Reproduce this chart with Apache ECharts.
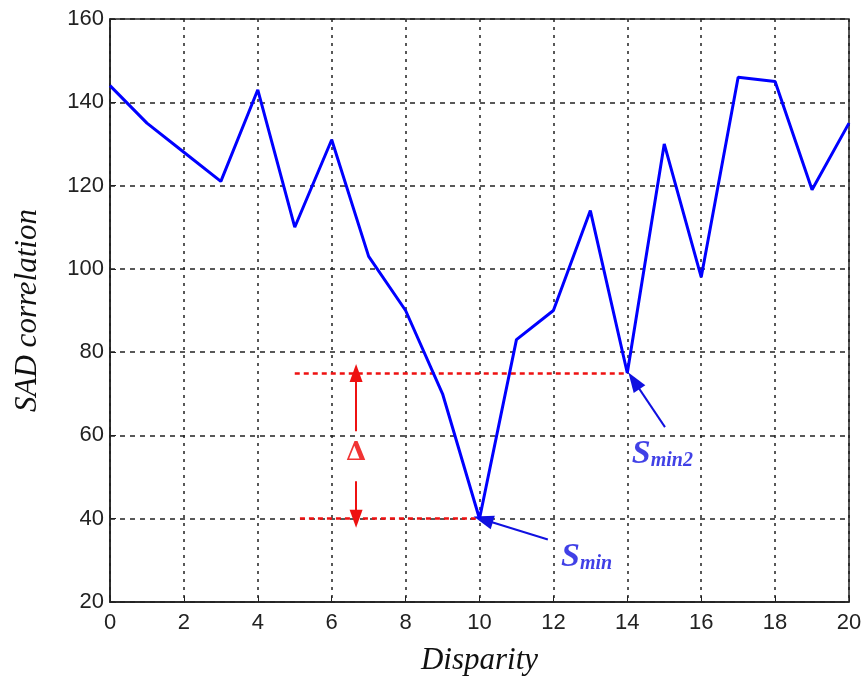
<!DOCTYPE html>
<html><head><meta charset="utf-8">
<script src="https://cdn.jsdelivr.net/npm/echarts@6/dist/echarts.min.js"></script>
<style>html,body{margin:0;padding:0;background:#fff}#c{width:861px;height:680px}</style>
</head><body><div id="c"></div>
<script>
// Data
const disparity = [0,1,2,3,4,5,6,7,8,9,10,11,12,13,14,15,16,17,18,19,20];
const sad = [144,135,128,121,143,110,131,103,90,70,40,83,90,114,75,130,98,146,145,119,135];
const xTicks = {min:0, max:20, step:2};
const yTicks = {min:20, max:160, step:20};
// annotation geometry (data coords)
const sminLevel = [[5.14,40],[10,40]];
const smin2Level = [[5.0,75],[14,75]];
const deltaUp = [[6.66,61],[6.66,75]];
const deltaDown = [[6.66,49],[6.66,40]];
const sminArrow = [[11.85,35],[10.1,39.8]];
const smin2Arrow = [[15.02,62],[14.18,73.1]];
const labels = [
  {name:'Smin', value:[12.9,30.8], sub:'min'},
  {name:'Smin2', value:[14.95,55.6], sub:'min2'}
];
const deltaPos = [6.66,55.8];

const chart = echarts.init(document.getElementById('c'), null, {renderer:'canvas'});
const tickFont = {fontFamily:'"Liberation Sans",Arial,sans-serif', fontSize:22, color:'#222'};
const titleFont = {fontFamily:'"Liberation Serif","Times New Roman",serif', fontStyle:'italic', fontSize:31, color:'#111'};

chart.setOption({
  animation:false,
  grid:{left:110, right:12, top:19, bottom:78, show:true, borderColor:'#222', borderWidth:1.5,
        containLabel:false, outerBoundsMode:'none'},
  xAxis:{type:'value', min:xTicks.min, max:xTicks.max, interval:xTicks.step,
    name:'Disparity', nameLocation:'middle', nameGap:43, nameTextStyle:titleFont,
    axisLine:{show:true, onZero:false, lineStyle:{color:'#222', width:1.5}},
    axisTick:{show:true, inside:true, length:6, lineStyle:{color:'#222'}},
    axisLabel:Object.assign({margin:10}, tickFont),
    splitLine:{show:true, lineStyle:{color:'#222', type:[3,5], width:1.5}}},
  yAxis:{type:'value', min:yTicks.min, max:yTicks.max, interval:yTicks.step,
    name:'SAD correlation', nameLocation:'middle', nameGap:67, nameTextStyle:titleFont,
    axisLine:{show:true, onZero:false, lineStyle:{color:'#222', width:1.5}},
    axisTick:{show:true, inside:true, length:6, lineStyle:{color:'#222'}},
    axisLabel:Object.assign({margin:6}, tickFont),
    splitLine:{show:true, lineStyle:{color:'#222', type:[5,5], width:1.5}}},
  series:[
    {type:'line', data:disparity.map((d,i)=>[d,sad[i]]), symbol:'none',
      lineStyle:{color:'#0000ff', width:3}, z:5,
      markLine:{silent:true, symbol:['none','none'], label:{show:false},
        lineStyle:{color:'#ee1111', type:[5,4], width:2.5},
        data:[
          [{coord:sminLevel[0]},{coord:sminLevel[1]}],
          [{coord:smin2Level[0]},{coord:smin2Level[1]}]
        ]}},
    {type:'line', data:[], markLine:{silent:true, symbol:['none','triangle'], symbolSize:[13,18],
        label:{show:false}, lineStyle:{color:'#ee1111', type:'solid', width:2},
        data:[
          [{coord:deltaUp[0]},{coord:deltaUp[1]}],
          [{coord:deltaDown[0]},{coord:deltaDown[1]}]
        ]}},
    {type:'line', data:[], markLine:{silent:true, symbol:['none','triangle'], symbolSize:[14,20],
        label:{show:false}, lineStyle:{color:'#1010e0', type:'solid', width:2},
        data:[
          [{coord:sminArrow[0]},{coord:sminArrow[1]}],
          [{coord:smin2Arrow[0]},{coord:smin2Arrow[1]}]
        ]}},
    {type:'scatter', symbolSize:0, z:10,
      data:labels.map(l=>({value:l.value, label:{formatter:'{s|S}{m|'+l.sub+'}'}})),
      label:{show:true, position:'inside',
        rich:{
          s:{fontFamily:'"Liberation Serif","Times New Roman",serif', fontStyle:'italic', fontWeight:'bold', fontSize:34, color:'#1010e0'},
          m:{fontFamily:'"Liberation Serif","Times New Roman",serif', fontStyle:'italic', fontWeight:'bold', fontSize:20, color:'#1010e0', padding:[14,0,0,0]}
        }}},
    {type:'scatter', symbolSize:0, z:10, data:[deltaPos],
      label:{show:true, position:'inside', formatter:'Δ', fontWeight:'bold',
        fontFamily:'"DejaVu Serif","Liberation Serif",serif', fontSize:26, color:'#ee0000', backgroundColor:'#fff', padding:[2,0]}}
  ]
});
</script></body></html>
